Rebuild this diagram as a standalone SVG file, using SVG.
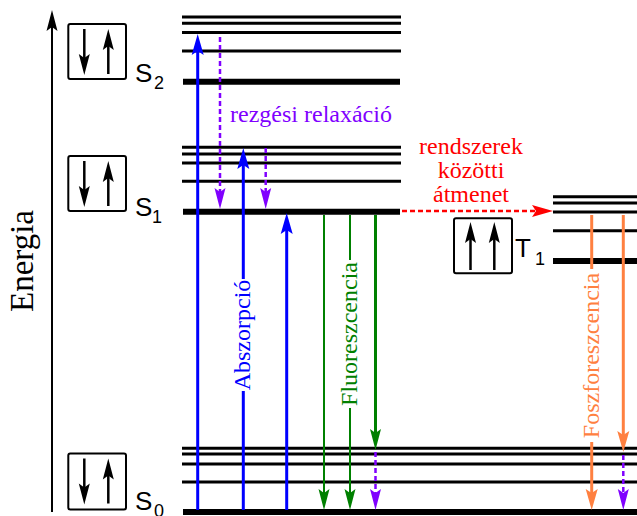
<svg xmlns="http://www.w3.org/2000/svg" width="637" height="516" viewBox="0 0 637 516">
<defs>
<style>
.thin{stroke:#000;stroke-width:3}
.thick{stroke:#000;stroke-width:6}
.box{fill:none;stroke:#000;stroke-width:2}
.spin{stroke:#000;stroke-width:2.5;fill:none;marker-end:url(#mk)}
.lbl{font-family:"Liberation Sans",Arial,sans-serif;font-size:26px;fill:#000}
.sub{font-size:18px}
.serif{font-family:"Liberation Serif","Times New Roman",serif;font-size:24px}
.abs{stroke:#00f;stroke-width:3;fill:none}
.vr{stroke:#8000ff;stroke-width:2.5;stroke-dasharray:5,3;fill:none;marker-end:url(#mv)}
.fl{stroke:#008000;stroke-width:2;fill:none}
.ph{stroke:#ff8040;stroke-width:3;fill:none}
.isc{stroke:#f00;stroke-width:2.5;stroke-dasharray:5,3;fill:none;marker-end:url(#mr)}
</style>
<marker id="mk" markerUnits="userSpaceOnUse" markerWidth="30" markerHeight="20" refX="0" refY="0" orient="auto" overflow="visible"><path d="M16,0 L-5,-5.5 L-1,0 L-5,5.5 Z" fill="#000"/></marker>
<marker id="mb" markerUnits="userSpaceOnUse" markerWidth="30" markerHeight="20" refX="0" refY="0" orient="auto" overflow="visible"><path d="M16,0 L-5,-6 L-1,0 L-5,6 Z" fill="#00f"/></marker>
<marker id="mv" markerUnits="userSpaceOnUse" markerWidth="30" markerHeight="20" refX="0" refY="0" orient="auto" overflow="visible"><path d="M16,0 L-5,-5.5 L-1,0 L-5,5.5 Z" fill="#8000ff"/></marker>
<marker id="mr" markerUnits="userSpaceOnUse" markerWidth="30" markerHeight="20" refX="0" refY="0" orient="auto" overflow="visible"><path d="M16,0 L-5,-6 L-1,0 L-5,6 Z" fill="#f00"/></marker>
<marker id="mg" markerUnits="userSpaceOnUse" markerWidth="30" markerHeight="20" refX="0" refY="0" orient="auto" overflow="visible"><path d="M16,0 L-5,-5.5 L-1,0 L-5,5.5 Z" fill="#008000"/></marker>
<marker id="mo" markerUnits="userSpaceOnUse" markerWidth="30" markerHeight="20" refX="0" refY="0" orient="auto" overflow="visible"><path d="M16,0 L-5,-6 L-1,0 L-5,6 Z" fill="#ff8040"/></marker>
</defs>
<rect width="637" height="516" fill="#fff"/>

<g id="axis">
<path d="M52,512 V26" stroke="#000" stroke-width="2" fill="none" marker-end="url(#mk)"/>
<text class="serif" style="font-size:33px" text-anchor="middle" transform="translate(33,261) rotate(-90)">Energia</text>
</g>

<g id="S2">
<line class="thin" x1="182" y1="17" x2="401" y2="17"/>
<line class="thin" x1="182" y1="23.3" x2="401" y2="23.3"/>
<line class="thin" x1="182" y1="32.5" x2="401" y2="32.5"/>
<line class="thin" x1="182" y1="51" x2="401" y2="51"/>
<line class="thick" x1="183" y1="81.7" x2="400" y2="81.7"/>
<rect class="box" x="68.3" y="24" width="57.7" height="55" rx="2"/>
<path class="spin" d="M84.3,29 V59"/>
<path class="spin" d="M108.3,74 V45"/>
<text class="lbl" x="135" y="82">S</text>
<text class="lbl sub" x="154" y="89">2</text>
</g>

<g id="S1">
<line class="thin" x1="182" y1="147.3" x2="401" y2="147.3"/>
<line class="thin" x1="182" y1="154" x2="401" y2="154"/>
<line class="thin" x1="182" y1="163" x2="401" y2="163"/>
<line class="thin" x1="182" y1="181.3" x2="401" y2="181.3"/>
<line class="thick" x1="183" y1="211.7" x2="400" y2="211.7"/>
<rect class="box" x="68.3" y="156" width="57.7" height="55" rx="2"/>
<path class="spin" d="M84.3,161 V191"/>
<path class="spin" d="M108.3,206 V177"/>
<text class="lbl" x="135" y="216">S</text>
<text class="lbl sub" x="152" y="223">1</text>
</g>

<g id="T1">
<line class="thin" x1="553" y1="196.7" x2="637" y2="196.7"/>
<line class="thin" x1="553" y1="203" x2="637" y2="203"/>
<line class="thin" x1="553" y1="212" x2="637" y2="212"/>
<line class="thin" x1="553" y1="230.7" x2="637" y2="230.7"/>
<line class="thick" x1="553" y1="261" x2="637" y2="261"/>
<rect class="box" x="454" y="218.3" width="58" height="55" rx="2"/>
<path class="spin" d="M470.5,270 V238"/>
<path class="spin" d="M494.3,270 V238"/>
<text class="lbl" x="515" y="257">T</text>
<text class="lbl sub" x="535" y="265">1</text>
</g>

<g id="S0">
<line class="thin" x1="182" y1="448.3" x2="637" y2="448.3"/>
<line class="thin" x1="182" y1="454" x2="637" y2="454"/>
<line class="thin" x1="182" y1="464" x2="637" y2="464"/>
<line class="thin" x1="182" y1="482" x2="637" y2="482"/>
<line class="thick" x1="183" y1="512" x2="637" y2="512"/>
<rect class="box" x="68.3" y="453.5" width="57.7" height="56" rx="2"/>
<path class="spin" d="M84.3,458.5 V488.5"/>
<path class="spin" d="M108.3,503.5 V474.5"/>
<text class="lbl" x="135" y="510">S</text>
<text class="lbl sub" x="154" y="517">0</text>
</g>

<g id="connectors">
<path class="abs" d="M197.7,510 V50" marker-end="url(#mb)"/>
<path class="abs" d="M243.3,510 V391"/>
<path class="abs" d="M243.3,279 V164" marker-end="url(#mb)"/>
<path class="abs" d="M286.7,510 V229" marker-end="url(#mb)"/>
<path class="vr" d="M220,37 V193"/>
<path class="vr" d="M265.7,148 V193"/>
<path class="vr" d="M375.5,452 V494"/>
<path class="vr" d="M623.3,455 V494"/>
<path class="fl" d="M324,215 V494" marker-end="url(#mg)"/>
<path class="fl" d="M350,215 V260"/>
<path class="fl" d="M350,408 V494" marker-end="url(#mg)"/>
<path class="fl" style="stroke-width:3" d="M375.5,215 V434" marker-end="url(#mg)"/>
<path class="ph" d="M591.7,215 V269"/>
<path class="ph" d="M591.7,442 V494" marker-end="url(#mo)"/>
<path class="ph" d="M623.3,215 V436" marker-end="url(#mo)"/>
<path class="isc" d="M402,211 H537"/>
</g>

<g id="labels">
<text class="serif" fill="#8000ff" x="311" y="122" text-anchor="middle">rezgési relaxáció</text>
<text class="serif" fill="#f00" x="471" y="154" text-anchor="middle">rendszerek</text>
<text class="serif" fill="#f00" x="471" y="178" text-anchor="middle">közötti</text>
<text class="serif" fill="#f00" x="471" y="202" text-anchor="middle">átmenet</text>
<text class="serif" fill="#00f" text-anchor="middle" transform="translate(249.5,335) rotate(-90)">Abszorpció</text>
<text class="serif" fill="#008000" text-anchor="middle" transform="translate(356.5,334) rotate(-90)">Fluoreszcencia</text>
<text class="serif" fill="#ff8040" text-anchor="middle" transform="translate(598.5,355.5) rotate(-90)">Foszforeszcencia</text>
</g>
</svg>
